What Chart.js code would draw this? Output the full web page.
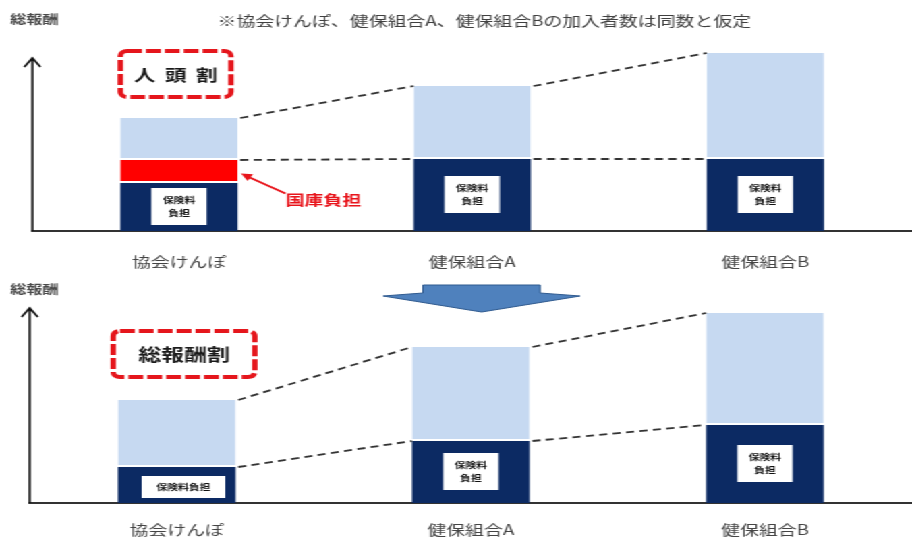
<!DOCTYPE html>
<html lang="ja">
<head>
<meta charset="utf-8">
<title>人頭割と総報酬割</title>
<script src="https://cdn.jsdelivr.net/npm/chart.js@4.4.1/dist/chart.umd.min.js"></script>
<style>
  html, body { margin: 0; padding: 0; background: #fff; }
  body { width: 912px; height: 538px; overflow: hidden; position: relative; }
  /* 元資料は横に引き伸ばされているので、描画面ごと横に伸ばす */
  #wrap { position: absolute; left: 0; top: 0; width: 676px; height: 538px;
          transform: scaleX(1.3491); transform-origin: 0 0; }
  canvas { position: absolute; left: 0; }
  #chartTop { top: 0; }
  #chartBottom { top: 270px; }
</style>
</head>
<body>
<div id="wrap">
  <canvas id="chartTop" width="676" height="270" style="width:676px;height:270px"></canvas>
  <canvas id="chartBottom" width="676" height="268" style="width:676px;height:268px"></canvas>
</div>

<script>
// ── データ ──
const categories = ["協会けんぽ", "健保組合A", "健保組合B"];

// 上段：人頭割
const perCapitaPremium = [48, 72, 72];    // 保険料負担
const perCapitaSubsidy = [23, 0, 0];      // 国庫負担
const perCapitaRest    = [42, 73, 106];   // 総報酬の残り

// 下段：総報酬割
const totalPayPremium = [36, 62, 78];
const totalPaySubsidy = [0, 0, 0];
const totalPayRest    = [67, 94, 112];

const TOP_MAX = 180, BOTTOM_MAX = 200;
const TOP_AXIS_TIP = 173, BOTTOM_AXIS_TIP = 195;

const NOTE    = "※協会けんぽ、健保組合A、健保組合Bの加入者数は同数と仮定";
const Y_TITLE = "総報酬";

// ── 色 ──
const NAVY  = "#0c2a63";
const LIGHT = "#c6d9f1";
const RED   = "#ff0000";
const FONT  = "'Noto Sans CJK JP', 'Noto Sans', sans-serif";

Chart.defaults.font.family = FONT;

// ══════════════════════════
function makeDS(label, data, color, sep) {
  return {
    label, data,
    backgroundColor: color,
    borderColor: "#ffffff",
    borderWidth: { top: 0, left: 0, right: 0, bottom: sep },
    borderSkipped: false,
    categoryPercentage: 1,
    barPercentage: 0.4
  };
}

function props(el) {
  return el.getProps(["x", "y", "base", "width"], true);
}

// ── 縦軸の矢印 ──
function drawAxisArrow(chart, tipValue) {
  const { ctx, chartArea: a } = chart;
  const tip = chart.scales.y.getPixelForValue(tipValue);
  ctx.save();
  ctx.strokeStyle = "#111";
  ctx.lineWidth = 1.6;
  ctx.beginPath();
  ctx.moveTo(a.left, a.bottom);
  ctx.lineTo(a.left, tip);
  ctx.moveTo(a.left - 6, tip + 9);
  ctx.lineTo(a.left, tip);
  ctx.lineTo(a.left + 6, tip + 9);
  ctx.stroke();
  ctx.restore();
}

// ── 棒どうしを結ぶ点線 ──
function drawConnectors(chart) {
  const ctx = chart.ctx;
  const lower = chart.getDatasetMeta(1).data;  // 保険料＋国庫負担の上端
  const upper = chart.getDatasetMeta(2).data;  // 総報酬の上端
  ctx.save();
  ctx.setLineDash([6, 4]);
  ctx.lineWidth = 1.8;
  ctx.strokeStyle = "#333";
  for (let i = 0; i < upper.length - 1; i++) {
    [upper, lower].forEach(els => {
      const a = props(els[i]), b = props(els[i + 1]);
      ctx.beginPath();
      ctx.moveTo(a.x + a.width / 2 + 2, a.y);
      ctx.lineTo(b.x - b.width / 2, b.y);
      ctx.stroke();
    });
  }
  ctx.restore();
}

// ── 保険料負担の白いラベル ──
function drawPremiumBoxes(chart) {
  const ctx = chart.ctx;
  chart.getDatasetMeta(0).data.forEach(el => {
    const { x, y, base } = props(el);
    const h  = base - y;
    const cy = (y + base) / 2;
    ctx.save();
    ctx.textAlign = "center";
    ctx.textBaseline = "middle";
    ctx.font = `bold 8px ${FONT}`;
    if (h < 42) {
      ctx.fillStyle = "#fff";
      ctx.fillRect(x - 26, cy - 9, 62, 22);
      ctx.fillStyle = "#111";
      ctx.fillText("保険料負担", x + 5, cy + 2);
    } else {
      ctx.fillStyle = "#fff";
      ctx.fillRect(x - 20.5, cy - 19, 41, 37);
      ctx.fillStyle = "#111";
      ctx.fillText("保険料", x, cy - 7);
      ctx.fillText("負担", x, cy + 6);
    }
    ctx.restore();
  });
}

// ── 赤い点線枠の見出し ──
function drawTag(ctx, x, y, w, h, text, size, spacing) {
  ctx.save();
  ctx.strokeStyle = "#e5161c";
  ctx.lineWidth = 4;
  ctx.setLineDash([11, 3]);
  ctx.beginPath();
  ctx.roundRect(x, y, w, h, 5);
  ctx.stroke();
  ctx.setLineDash([]);
  ctx.fillStyle = "#1a1a1a";
  ctx.font = `bold ${size}px ${FONT}`;
  ctx.letterSpacing = spacing + "px";
  ctx.textAlign = "center";
  ctx.textBaseline = "middle";
  ctx.fillText(text, x + w / 2 + spacing / 2, y + h / 2 + 1);
  ctx.restore();
}

function drawYTitle(ctx) {
  ctx.save();
  ctx.fillStyle = "#4a4a4a";
  ctx.font = `bold 12px ${FONT}`;
  ctx.textBaseline = "middle";
  ctx.fillText(Y_TITLE, 7.5, 19);
  ctx.restore();
}

// ── 上段の飾り ──
const topDecor = {
  id: "topDecor",
  afterDraw(chart) {
    const ctx = chart.ctx;
    drawAxisArrow(chart, TOP_AXIS_TIP);
    drawConnectors(chart);
    drawPremiumBoxes(chart);
    drawYTitle(ctx);

    // 注記
    ctx.save();
    ctx.fillStyle = "#404040";
    ctx.font = `14px ${FONT}`;
    ctx.textAlign = "center";
    ctx.textBaseline = "middle";
    ctx.fillText(NOTE, 359, 21);
    ctx.restore();

    const first = props(chart.getDatasetMeta(2).data[0]);
    drawTag(ctx, first.x - first.width / 2, 51, 82, 46, "人頭割", 16, 7);

    // 国庫負担の矢印
    const red = props(chart.getDatasetMeta(1).data[0]);
    const tipX = red.x + red.width / 2 + 2.5;
    const tipY = (red.y + red.base) / 2 + 2;
    const tailX = tipX + 33, tailY = tipY + 20;
    ctx.save();
    ctx.strokeStyle = "#e8141b";
    ctx.fillStyle = "#e8141b";
    ctx.lineWidth = 2;
    ctx.beginPath();
    ctx.moveTo(tailX, tailY);
    ctx.lineTo(tipX + 4, tipY + 2.5);
    ctx.stroke();
    const ang = Math.atan2(tailY - tipY, tailX - tipX);
    ctx.beginPath();
    ctx.moveTo(tipX, tipY);
    ctx.lineTo(tipX + 9 * Math.cos(ang - 0.45), tipY + 9 * Math.sin(ang - 0.45));
    ctx.lineTo(tipX + 9 * Math.cos(ang + 0.45), tipY + 9 * Math.sin(ang + 0.45));
    ctx.closePath();
    ctx.fill();
    ctx.font = `bold 14px ${FONT}`;
    ctx.textAlign = "center";
    ctx.textBaseline = "middle";
    ctx.fillText("国庫負担", tipX + 61, tipY + 26);
    ctx.restore();
  }
};

// ── 下段の飾り ──
const bottomDecor = {
  id: "bottomDecor",
  afterDraw(chart) {
    const ctx = chart.ctx;
    drawAxisArrow(chart, BOTTOM_AXIS_TIP);
    drawConnectors(chart);
    drawPremiumBoxes(chart);
    drawYTitle(ctx);

    const first = props(chart.getDatasetMeta(2).data[0]);
    drawTag(ctx, first.x - first.width / 2 - 3.5, 61, 105, 46, "総報酬割", 17, 0);

    // 上段→下段の青い矢印
    const cx = 357;
    ctx.save();
    ctx.fillStyle = "#4f81bd";
    ctx.strokeStyle = "#2f5a8f";
    ctx.lineWidth = 1;
    ctx.beginPath();
    ctx.moveTo(cx - 43.5, 15);
    ctx.lineTo(cx + 43.3, 15);
    ctx.lineTo(cx + 43.3, 23);
    ctx.lineTo(cx + 73, 26);
    ctx.lineTo(cx, 42);
    ctx.lineTo(cx - 73, 26);
    ctx.lineTo(cx - 43.5, 23);
    ctx.closePath();
    ctx.fill();
    ctx.stroke();
    ctx.restore();
  }
};

// ══════════════════════════
function makeChart(id, premium, subsidy, rest, cfg) {
  return new Chart(document.getElementById(id), {
    type: "bar",
    data: {
      labels: categories,
      datasets: [
        makeDS("保険料負担", premium, NAVY, 0),
        makeDS("国庫負担", subsidy, RED, 2),
        makeDS("総報酬", rest, LIGHT, 2)
      ]
    },
    options: {
      responsive: false,
      animation: false,
      events: [],
      layout: { padding: { top: cfg.top, left: cfg.left, right: cfg.right, bottom: 0 } },
      plugins: { legend: { display: false }, tooltip: { enabled: false } },
      scales: {
        x: {
          stacked: true,
          grid: { display: false, drawTicks: false },
          border: { display: true, color: "#333", width: 2 },
          ticks: { padding: cfg.tickPad, color: "#454545", font: { size: 14 } },
          afterFit(scale) { scale.height = cfg.axisH; }
        },
        y: { stacked: true, display: false, min: 0, max: cfg.max }
      }
    },
    plugins: [cfg.decor]
  });
}

makeChart("chartTop", perCapitaPremium, perCapitaSubsidy, perCapitaRest,
  { top: 51, left: 24, right: -3, tickPad: 22, axisH: 39, max: TOP_MAX, decor: topDecor });

makeChart("chartBottom", totalPayPremium, totalPaySubsidy, totalPayRest,
  { top: 33, left: 22, right: 0, tickPad: 18, axisH: 35, max: BOTTOM_MAX, decor: bottomDecor });
</script>
</body>
</html>
